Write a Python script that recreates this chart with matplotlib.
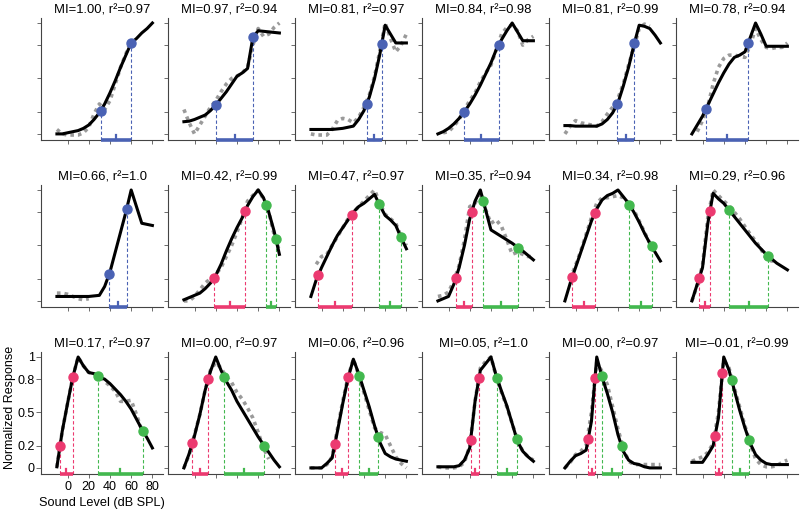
import matplotlib
matplotlib.use('Agg')
import matplotlib.pyplot as plt
import numpy as np

plt.rcParams['font.family'] = ['Liberation Sans', 'DejaVu Sans']

nan = float('nan')

# sound levels (dB SPL) at which fits / data are sampled
levels = [-10, -5, 0, 5, 10, 15, 20, 25, 30, 35, 40, 45, 50, 55, 60, 65, 70, 75, 80]

mi_vals = ['1.00', '0.97', '0.81', '0.84', '0.81', '0.78',
           '0.66', '0.42', '0.47', '0.35', '0.34', '0.29',
           '0.17', '0.00', '0.06', '0.05', '0.00', '\u20130.01']
r2_vals = ['0.97', '0.94', '0.97', '0.98', '0.99', '0.94',
           '1.0', '0.99', '0.97', '0.94', '0.98', '0.96',
           '0.97', '0.97', '0.96', '1.0', '0.97', '0.99']

# black fitted curves, one per panel (row by row)
fits = [
    [0.0, 0.0, 0.01, 0.02, 0.03, 0.05, 0.08, 0.13, 0.19, 0.27, 0.37, 0.48, 0.6, 0.71, 0.82, 0.86, 0.91, 0.95, 1.0],
    [0.11, 0.115, 0.13, 0.15, 0.17, 0.21, 0.26, 0.32, 0.38, 0.45, 0.52, 0.55, 0.59, 0.87, 0.93, 0.925, 0.92, 0.915, 0.91],
    [0.04, 0.04, 0.04, 0.04, 0.04, 0.045, 0.05, 0.06, 0.07, 0.13, 0.21, 0.33, 0.5, 0.72, 0.98, 0.9, 0.82, 0.82, 0.82],
    [0.0, 0.02, 0.05, 0.09, 0.14, 0.2, 0.27, 0.35, 0.44, 0.54, 0.64, 0.76, 0.85, 0.93, 1.0, 0.92, 0.84, 0.84, 0.84],
    [0.075, 0.075, 0.07, 0.07, 0.07, 0.07, 0.07, 0.09, 0.13, 0.19, 0.28, 0.43, 0.6, 0.8, 0.98, 0.97, 0.95, 0.89, 0.82],
    [0.0, 0.08, 0.16, 0.26, 0.36, 0.46, 0.55, 0.63, 0.69, 0.71, 0.74, 0.87, 1.0, 0.9, 0.79, 0.79, 0.79, 0.79, 0.79],
    [0.04, 0.04, 0.04, 0.04, 0.04, 0.04, 0.04, 0.045, 0.05, 0.13, 0.26, 0.44, 0.62, 0.8, 1.0, 0.85, 0.7, 0.69, 0.68],
    [0.01, 0.03, 0.05, 0.07, 0.11, 0.16, 0.23, 0.33, 0.45, 0.56, 0.66, 0.75, 0.86, 0.94, 1.0, 0.93, 0.8, 0.63, 0.42],
    [0.04, 0.19, 0.3, 0.4, 0.5, 0.59, 0.66, 0.73, 0.8, 0.85, 0.88, 0.92, 0.96, 0.86, 0.77, 0.73, 0.68, 0.57, 0.47],
    [0.0, 0.02, 0.04, 0.15, 0.3, 0.5, 0.74, 0.9, 1.0, 0.82, 0.64, 0.61, 0.58, 0.55, 0.52, 0.485, 0.45, 0.41, 0.37],
    [0.0, 0.16, 0.3, 0.44, 0.58, 0.72, 0.83, 0.91, 0.95, 0.97, 1.0, 0.94, 0.88, 0.8, 0.71, 0.61, 0.52, 0.44, 0.36],
    [0.0, 0.15, 0.3, 0.7, 0.97, 0.92, 0.88, 0.82, 0.76, 0.7, 0.64, 0.58, 0.52, 0.47, 0.42, 0.38, 0.34, 0.31, 0.28],
    [0.01, 0.33, 0.58, 0.82, 1.0, 0.92, 0.86, 0.85, 0.82, 0.8, 0.76, 0.71, 0.66, 0.6, 0.53, 0.44, 0.35, 0.27, 0.18],
    [0.0, 0.13, 0.29, 0.48, 0.7, 0.87, 1.0, 0.88, 0.78, 0.7, 0.6, 0.52, 0.44, 0.36, 0.28, 0.21, 0.14, 0.07, 0.01],
    [0.0, 0.0, 0.0, 0.04, 0.09, 0.33, 0.58, 0.81, 0.98, 0.85, 0.7, 0.55, 0.38, 0.23, 0.13, 0.1, 0.08, 0.07, 0.06],
    [0.01, 0.01, 0.01, 0.01, 0.02, 0.07, 0.18, 0.6, 0.88, 0.94, 1.0, 0.83, 0.69, 0.56, 0.4, 0.24, 0.15, 0.1, 0.06],
    [0.0, 0.06, 0.11, 0.13, 0.16, 0.42, 1.0, 0.82, 0.67, 0.5, 0.3, 0.15, 0.07, 0.04, 0.03, 0.01, 0.0, 0.0, 0.0],
    [0.05, 0.05, 0.05, 0.12, 0.2, 0.45, 1.0, 0.88, 0.7, 0.52, 0.36, 0.22, 0.12, 0.07, 0.04, 0.03, 0.03, 0.03, 0.03],
]

# gray measured responses
data = [
    [0.04, 0.0, -0.01, -0.01, -0.01, 0.01, 0.06, 0.18, 0.27, 0.22, 0.3, 0.45, 0.6, 0.72, 0.85, nan, nan, nan, nan],
    [0.22, 0.1, 0.0, 0.08, 0.16, 0.24, 0.3, 0.38, 0.45, 0.5, 0.52, 0.55, 0.6, 0.8, 0.95, 0.88, 0.9, 0.96, 1.0],
    [0.0, -0.01, -0.01, -0.01, 0.04, 0.12, 0.14, 0.13, 0.1, 0.15, 0.24, 0.35, 0.52, 0.75, 1.0, 0.86, 0.74, 0.8, 0.9],
    [nan, 0.01, 0.02, 0.07, 0.13, 0.22, 0.3, 0.37, 0.47, 0.55, 0.62, 0.76, 0.9, 0.96, 0.98, 0.93, 0.8, 0.85, 0.88],
    [0.0, 0.07, 0.12, 0.1, 0.09, 0.08, 0.07, 0.11, 0.18, 0.24, 0.32, 0.45, 0.62, 0.78, 0.95, 0.99, 0.97, nan, nan],
    [nan, 0.02, 0.12, 0.25, 0.45, 0.6, 0.68, 0.71, 0.71, 0.7, 0.69, 0.8, 0.95, 0.85, 0.78, 0.77, 0.78, 0.78, 0.82],
    [0.07, 0.07, 0.06, 0.04, 0.02, 0.01, 0.02, nan, nan, nan, nan, nan, nan, nan, nan, nan, nan, nan, nan],
    [0.0, 0.0, 0.04, 0.1, 0.16, 0.2, 0.24, 0.3, 0.4, 0.5, 0.62, 0.75, 0.9, 0.95, 1.0, 0.92, 0.8, 0.6, 0.45],
    [nan, 0.33, 0.4, 0.42, 0.5, 0.58, 0.66, 0.74, 0.8, 0.85, 0.9, 0.95, 1.0, 0.88, 0.78, 0.74, 0.7, 0.58, 0.5],
    [0.04, 0.05, 0.08, 0.18, 0.32, 0.55, 0.85, 0.88, 0.98, 0.82, 0.7, 0.73, 0.67, 0.55, 0.42, 0.44, 0.42, 0.4, 0.4],
    [nan, 0.2, 0.32, 0.45, 0.6, 0.75, 0.88, 0.93, 0.93, 0.94, 0.95, 0.93, 0.88, 0.82, 0.72, 0.62, 0.52, nan, nan],
    [0.0, 0.14, 0.32, 0.75, 1.0, 0.95, 0.9, 0.86, 0.8, 0.74, 0.67, 0.6, 0.54, 0.47, 0.38, 0.36, 0.36, nan, nan],
    [0.01, 0.33, 0.58, 0.82, 1.0, 0.92, 0.86, 0.85, 0.83, 0.78, 0.74, 0.69, 0.6, 0.6, 0.61, 0.48, 0.34, nan, nan],
    [0.0, 0.12, 0.3, 0.48, 0.7, 0.88, 0.95, 0.9, 0.82, 0.77, 0.68, 0.62, 0.54, 0.45, 0.32, 0.18, 0.08, nan, nan],
    [0.0, 0.0, 0.0, 0.03, 0.1, 0.35, 0.6, 0.82, 0.98, 0.84, 0.68, 0.52, 0.36, 0.32, 0.3, 0.2, 0.1, 0.04, 0.0],
    [0.01, 0.0, 0.0, 0.0, 0.01, 0.05, 0.2, 0.6, 0.9, 0.96, 1.0, 0.82, 0.68, 0.55, 0.4, 0.25, 0.15, 0.1, 0.07],
    [0.0, 0.05, 0.12, 0.15, 0.2, 0.5, 0.95, 0.87, 0.75, 0.55, 0.35, 0.18, 0.06, 0.03, 0.03, 0.03, 0.03, 0.03, 0.03],
    [0.06, 0.08, 0.1, 0.14, 0.22, 0.5, 0.97, 0.9, 0.72, 0.55, 0.38, 0.22, 0.08, 0.03, 0.01, 0.01, 0.02, 0.05, 0.07],
]

# sound levels of the threshold markers on the rising / falling flank
rise_marks = [[31.3, 59.8], [20.2, 55.4], [42.6, 56.7], [14.6, 47.3], [39.4, 55.5], [3.0, 42.9],
              [39.4, 55.8], [18.4, 47.6], [-3.0, 28.4], [6.8, 21.8], [-3.0, 18.4], [-3.0, 7.0],
              [-7.1, 4.9], [-2.1, 13.0], [12.7, 25.2], [20.9, 28.7], [12.0, 18.4], [11.8, 18.7]]
fall_marks = [None, None, None, None, None, None,
              None, [67.4, 76.8], [54.5, 74.9], [32.8, 65.8], [50.7, 71.8], [25.4, 61.4],
              [28.4, 70.8], [28.1, 65.8], [35.6, 53.5], [45.7, 64.3], [24.7, 43.5], [27.5, 43.8]]

blue = '#4a62b4'
pink = '#ec3a70'
green = '#42b84e'

ytick_vals = [0, 0.2, 0.5, 0.8, 1]
ytick_labels = ['0', '0.2', '0.5', '0.8', '1']
xtick_vals = [0, 20, 40, 60, 80]
xtick_labels = ['0', '20', '40', '60', '80']

xlo, xhi = -25, 90
ylo, yhi = -0.055, 1.045

fig = plt.figure(figsize=(8, 5.09), dpi=100)


def draw_marks(ax, xs, fit, color):
    for mx in xs:
        my = np.interp(mx, levels, fit)
        ax.plot([mx, mx], [ylo, my], color=color, lw=0.8, ls=(0, (3, 2)), zorder=2)
        ax.plot(mx, my, 'o', ms=6.5, color=color, mec=color, zorder=5)
    mid = (xs[0] + xs[1]) / 2
    ax.plot(xs, [ylo, ylo], color=color, lw=2.6, solid_capstyle='butt', clip_on=False, zorder=6)
    ax.plot([mid, mid], [ylo, ylo + 0.045], color=color, lw=1.6, clip_on=False, zorder=6)


for i in range(18):
    r, c = divmod(i, 6)
    left = (41 + 127 * c) / 800
    bottom = (509 - (140 + 167 * r)) / 509
    ax = fig.add_axes([left, bottom, 122 / 800, 122 / 509])

    ax.plot(levels, data[i], color='#9a9a9a', lw=2.6, ls=(0, (1, 1.1)), zorder=1)
    ax.plot(levels, fits[i], color='black', lw=2.2, zorder=3)

    rc = blue if i < 7 else pink
    draw_marks(ax, rise_marks[i], fits[i], rc)
    if fall_marks[i] is not None:
        draw_marks(ax, fall_marks[i], fits[i], green)

    ax.set_xlim(xlo, xhi)
    ax.set_ylim(ylo, yhi)
    for s in ['top', 'right']:
        ax.spines[s].set_visible(False)
    for s in ['left', 'bottom']:
        ax.spines[s].set_color('#444444')
        ax.spines[s].set_linewidth(0.8)
    ax.set_yticks(ytick_vals)
    ax.set_xticks(xtick_vals)
    ax.tick_params(direction='out', length=3, width=0.6, color='#555555')
    ax.set_title('MI=' + mi_vals[i] + ', r\u00b2=' + r2_vals[i], fontsize=9.4, pad=3.5)

    if i == 12:
        ax.set_yticklabels(ytick_labels, fontsize=9)
        ax.set_xticklabels(xtick_labels, fontsize=9)
        ax.tick_params(axis='y', length=3.5, pad=1)
        ax.tick_params(axis='x', pad=2)
        ax.set_ylabel('Normalized Response', fontsize=9)
        ax.yaxis.set_label_coords(-0.205, 0.545)
        ax.set_xlabel('Sound Level (dB SPL)', fontsize=9.2, labelpad=3)
    else:
        ax.set_yticklabels([])
        ax.set_xticklabels([])

fig.savefig('out.png', dpi=100)
